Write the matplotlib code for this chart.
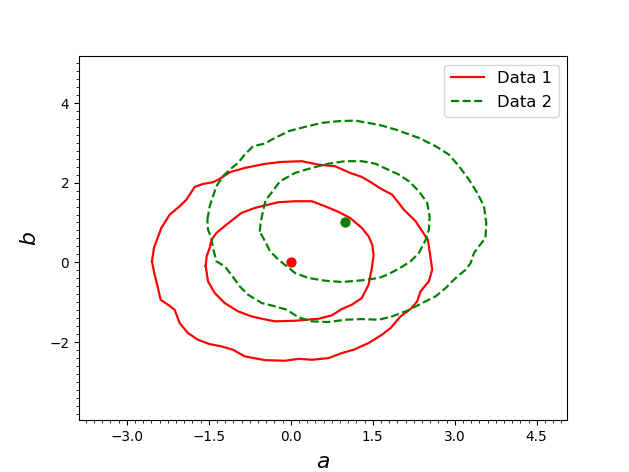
import numpy as np
import matplotlib
matplotlib.use("Agg")
import matplotlib.pyplot as plt
from matplotlib.ticker import MultipleLocator, AutoMinorLocator

# contour points (data units)
d1_inner_x = [-1.557, -1.538, -1.484, -1.452, -1.361, -1.178, -0.903, -0.659, -0.476, -0.225,
              0.079, 0.385, 0.628, 0.874, 1.086, 1.300, 1.423, 1.493, 1.515, 1.484,
              1.423, 1.300, 1.117, 0.934, 0.751, 0.507, 0.079, -0.288, -0.531, -0.720,
              -0.965, -1.209, -1.392, -1.515]
d1_inner_y = [-0.093, 0.158, 0.359, 0.560, 0.736, 0.945, 1.239, 1.364, 1.427, 1.508,
              1.533, 1.533, 1.407, 1.264, 1.113, 0.862, 0.653, 0.435, 0.183, -0.143,
              -0.563, -0.897, -1.065, -1.173, -1.332, -1.417, -1.467, -1.482, -1.417, -1.357,
              -1.231, -1.023, -0.771, -0.477]

d1_outer_x = [-2.540, -2.504, -2.436, -2.368, -2.216, -2.033, -1.910, -1.758, -1.606, -1.423,
              -1.300, -1.117, -0.842, -0.476, -0.165, 0.201, 0.507, 0.811, 1.086, 1.300,
              1.484, 1.654, 1.855, 2.070, 2.284, 2.405, 2.509, 2.540, 2.588, 2.527,
              2.375, 2.313, 2.192, 2.009, 1.826, 1.667, 1.423, 1.148, 0.934, 0.690,
              0.385, 0.141, -0.104, -0.476, -0.842, -1.057, -1.269, -1.484, -1.698, -1.881,
              -2.033, -2.125, -2.247, -2.381, -2.430, -2.491]
d1_outer_y = [0.020, 0.359, 0.611, 0.862, 1.196, 1.407, 1.573, 1.892, 1.967, 2.010,
              2.093, 2.261, 2.369, 2.470, 2.520, 2.538, 2.452, 2.412, 2.244, 2.143,
              1.993, 1.842, 1.699, 1.322, 1.030, 0.779, 0.560, 0.276, -0.186, -0.477,
              -0.729, -0.980, -1.173, -1.357, -1.651, -1.819, -2.028, -2.196, -2.279, -2.405,
              -2.447, -2.422, -2.472, -2.455, -2.362, -2.196, -2.111, -2.053, -1.945, -1.776,
              -1.525, -1.191, -1.065, -0.940, -0.646, -0.312]

d2_inner_x = [-0.568, -0.549, -0.504, -0.458, -0.379, -0.196, 0.079, 0.385, 0.690, 0.995,
              1.300, 1.544, 1.672, 1.978, 2.161, 2.344, 2.496, 2.540, 2.527, 2.467,
              2.344, 2.192, 1.978, 1.764, 1.612, 1.300, 0.934, 0.628, 0.324, 0.079,
              -0.073, -0.225, -0.379, -0.471]
d2_inner_y = [0.769, 1.013, 1.314, 1.565, 1.699, 2.035, 2.244, 2.369, 2.477, 2.538,
              2.538, 2.477, 2.394, 2.201, 2.035, 1.784, 1.490, 1.156, 0.819, 0.560,
              0.234, 0.025, -0.161, -0.312, -0.394, -0.452, -0.495, -0.462, -0.394, -0.269,
              -0.101, 0.065, 0.276, 0.528]

d2_outer_x = [-1.526, -1.484, -1.423, -1.361, -1.240, -1.117, -0.965, -0.842, -0.690, -0.476,
              -0.348, -0.042, 0.262, 0.568, 0.874, 1.178, 1.484, 1.667, 1.918, 2.344,
              2.650, 2.894, 3.077, 3.260, 3.412, 3.535, 3.577, 3.562, 3.443, 3.352,
              3.291, 3.200, 3.016, 2.833, 2.650, 2.405, 2.130, 1.855, 1.612, 1.300,
              0.995, 0.690, 0.385, 0.141, -0.073, -0.288, -0.531, -0.782, -0.934, -1.086,
              -1.209, -1.361, -1.423, -1.452, -1.515]
d2_outer_y = [1.070, 1.407, 1.658, 1.910, 2.161, 2.327, 2.495, 2.704, 2.915, 2.980,
              3.080, 3.291, 3.400, 3.500, 3.543, 3.558, 3.482, 3.432, 3.332, 3.123,
              2.915, 2.704, 2.412, 2.075, 1.741, 1.407, 0.987, 0.611, 0.402, 0.234,
              -0.018, -0.186, -0.394, -0.646, -0.854, -1.023, -1.216, -1.357, -1.442, -1.425,
              -1.442, -1.500, -1.482, -1.382, -1.191, -1.106, -1.023, -0.814, -0.603, -0.312,
              -0.101, 0.025, 0.359, 0.611, 0.819]

center1 = (0.0, 0.0)
center2 = (1.0, 1.0)


def closed(xs, ys):
    return list(xs) + [xs[0]], list(ys) + [ys[0]]


fig, ax = plt.subplots(figsize=(6.4, 4.8), dpi=98.4)

x, y = closed(d1_inner_x, d1_inner_y)
ax.plot(x, y, color="red", linestyle="-", lw=1.6, label="Data 1")
x, y = closed(d1_outer_x, d1_outer_y)
ax.plot(x, y, color="red", linestyle="-", lw=1.6)

x, y = closed(d2_inner_x, d2_inner_y)
ax.plot(x, y, color="green", linestyle="--", lw=1.6, label="Data 2")
x, y = closed(d2_outer_x, d2_outer_y)
ax.plot(x, y, color="green", linestyle="--", lw=1.6)

ax.plot(*center1, "o", color="red", ms=6.5)
ax.plot(*center2, "o", color="green", ms=6.5)

ax.set_xlim(-3.88, 5.05)
ax.set_ylim(-3.96, 5.17)
ax.xaxis.set_major_locator(MultipleLocator(1.5))
ax.yaxis.set_major_locator(MultipleLocator(2))
ax.xaxis.set_minor_locator(AutoMinorLocator(10))
ax.yaxis.set_minor_locator(AutoMinorLocator(10))

ax.set_xlabel("$a$", fontsize=16, labelpad=6)
ax.set_ylabel("$b$", fontsize=16, labelpad=7)
ax.legend(loc="upper right", fontsize=12, labelspacing=0.55)

fig.savefig("out.png", dpi=98.4)
